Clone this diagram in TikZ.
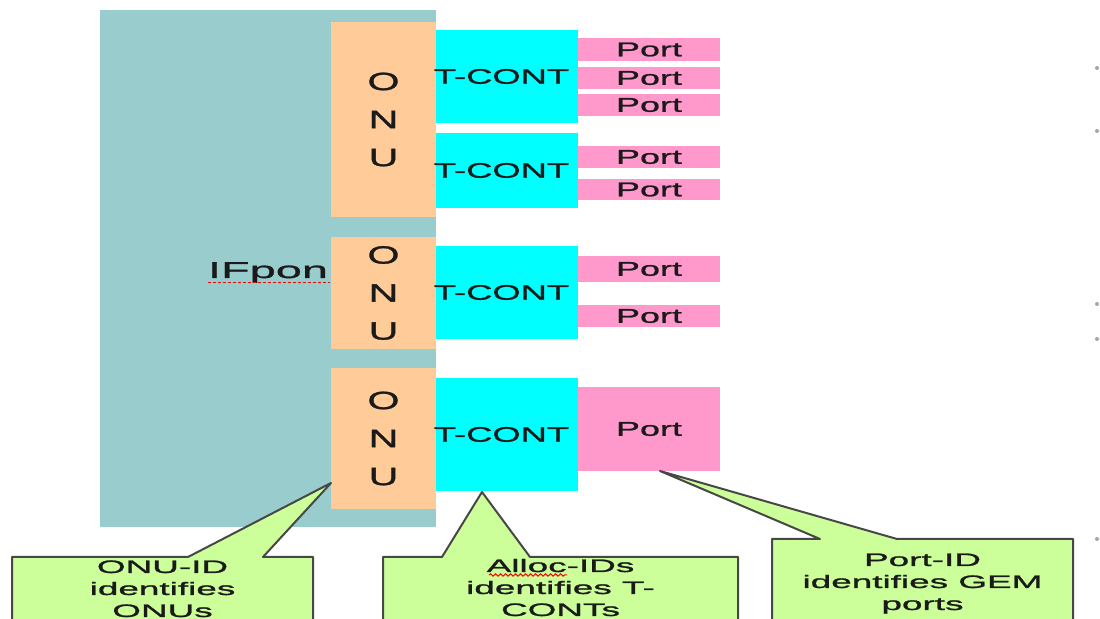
\documentclass[tikz,border=0pt]{standalone}
\usepackage{fontspec}
\setmainfont{Liberation Sans}
\newfontfamily\fPort[FakeStretch=1.8,FakeBold=1.2]{Liberation Sans}
\newfontfamily\fTC[FakeStretch=1.73,FakeBold=1.2]{Liberation Sans}
\newfontfamily\fONU[FakeStretch=1.65,FakeBold=1.2]{Liberation Sans}
\newfontfamily\fIF[FakeStretch=2.04,FakeBold=1.2]{Liberation Sans}
\newfontfamily\fCall[FakeStretch=2.05,FakeBold=1.4]{Liberation Sans}
\usetikzlibrary{decorations.pathmorphing}
\definecolor{ifponc}{HTML}{99CCCC}
\definecolor{onuc}{HTML}{FFCC99}
\definecolor{tcc}{HTML}{00FFFF}
\definecolor{portc}{HTML}{FF99CC}
\definecolor{callc}{HTML}{CCFF99}
\definecolor{txtc}{HTML}{1A1A1A}
\begin{document}
\begin{tikzpicture}[x=0.5pt,y=-0.5pt,
  box/.style={rectangle, inner sep=0pt, outer sep=0pt, anchor=north west, draw=none, text=txtc},
  onubox/.style={box, fill=onuc, minimum width=52.5pt, align=center,
     font=\fONU\fontsize{12.5}{19}\selectfont},
  tcbox/.style={box, fill=tcc, minimum width=71pt, font=\fTC\fontsize{10.5}{12}\selectfont},
  portbox/.style={box, fill=portc, minimum width=71pt, font=\fPort\fontsize{10}{12}\selectfont},
  calltxt/.style={anchor=base, inner sep=0pt, text=txtc, font=\fCall\fontsize{9}{11}\selectfont},
  callout/.style={fill=callc, draw=black!72, line width=1pt, line join=round},
  spell/.style={red, line width=0.5pt}
]
\useasboundingbox (0,0) rectangle (1100,619);
\fill[white] (0,0) rectangle (1100,619);

% IFpon area
\node[box, fill=ifponc, minimum width=168pt, minimum height=258.5pt] (ifpon) at (100,10) {};
\node[anchor=base, inner sep=0pt, text=txtc, font=\fIF\fontsize{11.5}{13}\selectfont] (iftxt) at (268,278) {IFpon};
\draw[spell, dash pattern=on 1.5pt off 1pt] (iftxt.base west) ++(0,5) coordinate (ul1a) -- ++(122,0) coordinate (ul1b);

% ONUs
\node[onubox, minimum height=97.5pt] (onu1) at (331,22) {O\\N\\U};
\node[onubox, minimum height=56pt] (onu2) at (331,237) {O\\N\\U};
\node[onubox, minimum height=70.5pt] (onu3) at (331,368) {O\\N\\U};

% T-CONTs
\node[tcbox, minimum height=46.5pt] (tc1) at (436,30) {\kern-5.5pt T-CONT};
\node[tcbox, minimum height=37.5pt] (tc2) at (436,133) {\kern-5.5pt T-CONT};
\node[tcbox, minimum height=46.5pt] (tc3) at (436,246) {\kern-5.5pt T-CONT};
\node[tcbox, minimum height=56.5pt] (tc4) at (436,378) {\kern-5.5pt T-CONT};

% Ports
\node[portbox, minimum height=11.5pt] (p1) at (578,38) {Port};
\node[portbox, minimum height=11pt] (p2) at (578,67) {Port};
\node[portbox, minimum height=11pt] (p3) at (578,94) {Port};
\node[portbox, minimum height=11pt] (p4) at (578,146) {Port};
\node[portbox, minimum height=10.5pt] (p5) at (578,179) {Port};
\node[portbox, minimum height=13pt] (p6) at (578,256) {Port};
\node[portbox, minimum height=11pt] (p7) at (578,305) {Port};
\node[portbox, minimum height=42pt] (p8) at (578,387) {Port};

% callout tips
\coordinate (tip1) at (331,483);
\coordinate (tip2) at (482,492);
\coordinate (tip3) at (660,471);

\begin{scope}
\clip (0,0) rectangle (1100,619);
\draw[callout] (12,557) -- (188,557) -- (tip1) -- (263,557) -- (313,557) -- (313,640) -- (12,640) -- cycle;
\draw[callout] (383,557) -- (442,557) -- (tip2) -- (530,557) -- (738,557) -- (738,640) -- (383,640) -- cycle;
\draw[callout] (772,539) -- (820,539) -- (tip3) -- (897,539) -- (1073,539) -- (1073,640) -- (772,640) -- cycle;
\end{scope}

\node[calltxt] (c1a) at (162.5,573) {ONU-ID};
\node[calltxt] (c1b) at (162.5,595) {identifies};
\node[calltxt] (c1c) at (162.5,617) {ONUs};

\node[calltxt] (c2a) at (560.5,572) {Alloc-IDs};
\node[calltxt] (c2b) at (560.5,594) {identifies T-};
\node[calltxt] (c2c) at (560.5,616) {CONTs};
\draw[spell, decorate, decoration={snake, amplitude=0.6pt, segment length=2.5pt}] (489,575) -- (567,575);

\node[calltxt] (c3a) at (922.5,566) {Port-ID};
\node[calltxt] (c3b) at (922.5,588) {identifies GEM};
\node[calltxt] (c3c) at (922.5,610) {ports};

% bullet remnants at right edge
\foreach \yy in {68,131,304,339,539} \fill[black!35] (1097,\yy) circle (1pt);
\end{tikzpicture}
\end{document}
